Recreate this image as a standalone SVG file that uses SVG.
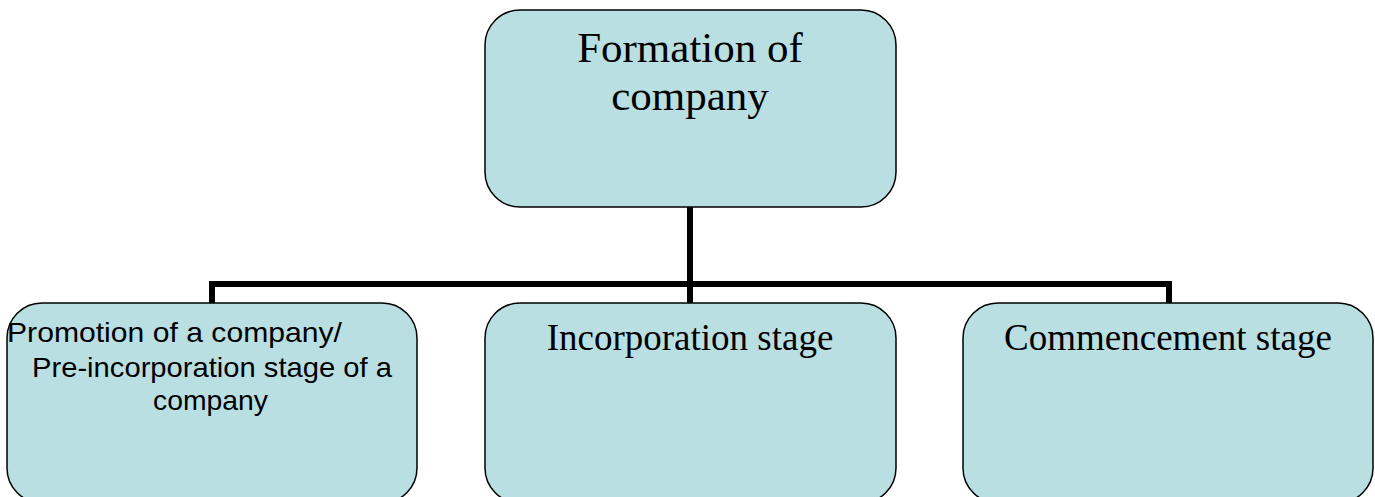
<svg xmlns="http://www.w3.org/2000/svg" width="1375" height="497" viewBox="0 0 1375 497">
<style>
.box{fill:#badfe3;stroke:#000;stroke-width:1.5}
.conn{fill:none;stroke:#000;stroke-width:6}
.serif{font-family:"Liberation Serif","Times New Roman",serif;fill:#000}
.sans{font-family:"Liberation Sans",Arial,sans-serif;fill:#000;font-size:28px}
</style>
<rect width="1375" height="497" fill="#fff"/>
<g id="connectors">
<path class="conn" d="M690 207 V287"/>
<path class="conn" d="M212 303 V284 H1169 V303"/>
<path class="conn" d="M690 284 V303"/>
</g>
<g id="node-top">
<rect class="box" x="485" y="10" width="411" height="197" rx="35" ry="35"/>
<text class="serif" x="690" y="62" font-size="43" text-anchor="middle">Formation of</text>
<text class="serif" x="690" y="110" font-size="43" text-anchor="middle">company</text>
</g>
<g id="node-promotion">
<rect class="box" x="7" y="303" width="410" height="200" rx="35" ry="35"/>
<text class="sans" x="7" y="342" textLength="335" lengthAdjust="spacingAndGlyphs">Promotion of a company/</text>
<text class="sans" x="32" y="377" textLength="360" lengthAdjust="spacingAndGlyphs">Pre-incorporation stage of a</text>
<text class="sans" x="153" y="410" textLength="115" lengthAdjust="spacingAndGlyphs">company</text>
</g>
<g id="node-incorporation">
<rect class="box" x="485" y="303" width="411" height="200" rx="35" ry="35"/>
<text class="serif" x="690" y="350" font-size="37" text-anchor="middle">Incorporation stage</text>
</g>
<g id="node-commencement">
<rect class="box" x="963" y="303" width="410" height="200" rx="35" ry="35"/>
<text class="serif" x="1168" y="350" font-size="37" text-anchor="middle">Commencement stage</text>
</g>
</svg>
